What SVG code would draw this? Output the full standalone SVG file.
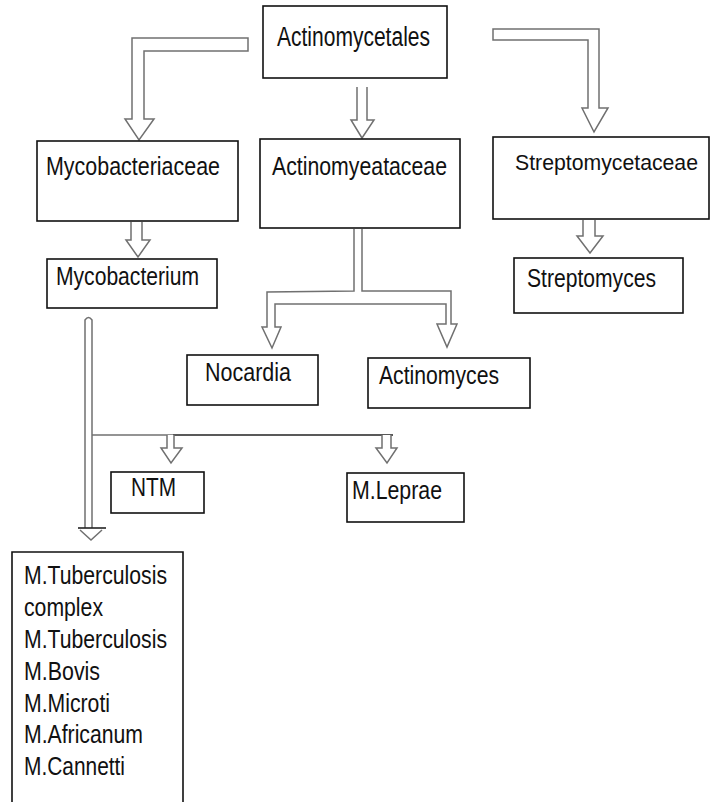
<svg xmlns="http://www.w3.org/2000/svg" width="712" height="802" viewBox="0 0 712 802">
<style>
.box{fill:#fff;stroke:#111;stroke-width:1.6}
.t{font-family:"Liberation Sans",Arial,sans-serif;font-size:26px;fill:#111}
.arr{fill:#fff;stroke:#707070;stroke-width:1.5;stroke-linejoin:miter}
.ln{fill:none;stroke:#707070;stroke-width:1.5}
.dk{fill:none;stroke:#222;stroke-width:1.6}
</style>
<rect width="712" height="802" fill="#fff"/>
<g id="connectors">
  <path class="arr" d="M248,38 L132,38 L132,119 L125,119 L139,140 L154,119 L144,119 L144,51 L248,51 Z"/>
  <path class="arr" d="M357,87 L357,120 L351,120 L362,138 L374,120 L367,120 L367,87"/>
  <path class="arr" d="M493,29 L599,29 L599,108 L608,108 L594,132 L582,108 L588,108 L588,40 L493,40 Z"/>
  <path class="arr" d="M131,222 L131,240 L126,240 L138,257 L150,240 L142,240 L142,222"/>
  <path class="arr" d="M583,220 L583,236 L577,236 L590,253 L603,236 L595,236 L595,220"/>
  <path class="arr" d="M354,229 L354,291 L267,292 L267,327 L262,327 L272,348 L281,327 L275,327 L275,304 L446,304 L446,324 L437,324 L447,347 L457,324 L451,324 L451,291 L362,291 L362,229"/>
  <path class="arr" d="M85,528 L85,320 Q88.5,315 92,320 L92,528"/>
  <path class="dk" d="M78,528 L106,528" stroke-width="2.2"/>
  <path class="ln" d="M80,530 L91,540 L102,530"/>
  <path class="ln" d="M92,435 L173,435"/>
  <path class="dk" d="M173,435 L393,435"/>
  <path class="arr" d="M167,435 L167,448 L161,448 L171,463 L182,448 L174,448 L174,435"/>
  <path class="arr" d="M382,435 L382,448 L376,448 L387,463 L397,448 L391,448 L391,435"/>
</g>
<g id="n-actinomycetales">
  <rect class="box" x="263" y="6" width="184" height="72"/>
  <text class="t" x="277" y="46" style="font-size:27px" textLength="153" lengthAdjust="spacingAndGlyphs">Actinomycetales</text>
</g>
<g id="n-mycobacteriaceae">
  <rect class="box" x="37" y="141" width="201" height="80"/>
  <text class="t" x="46" y="175" textLength="174" lengthAdjust="spacingAndGlyphs">Mycobacteriaceae</text>
</g>
<g id="n-actinomyeataceae">
  <rect class="box" x="260" y="139" width="200" height="89"/>
  <text class="t" x="272" y="175" textLength="175" lengthAdjust="spacingAndGlyphs">Actinomyeataceae</text>
</g>
<g id="n-streptomycetaceae">
  <rect class="box" x="493" y="137" width="216" height="82"/>
  <text class="t" x="515" y="170" style="font-size:22px" textLength="183" lengthAdjust="spacingAndGlyphs">Streptomycetaceae</text>
</g>
<g id="n-mycobacterium">
  <rect class="box" x="47" y="259" width="170" height="49"/>
  <text class="t" x="56" y="285" textLength="143" lengthAdjust="spacingAndGlyphs">Mycobacterium</text>
</g>
<g id="n-streptomyces">
  <rect class="box" x="514" y="258" width="169" height="55"/>
  <text class="t" x="527" y="287" textLength="129" lengthAdjust="spacingAndGlyphs">Streptomyces</text>
</g>
<g id="n-nocardia">
  <rect class="box" x="187" y="355" width="131" height="50"/>
  <text class="t" x="205" y="381" textLength="86" lengthAdjust="spacingAndGlyphs">Nocardia</text>
</g>
<g id="n-actinomyces">
  <rect class="box" x="368" y="358" width="162" height="50"/>
  <text class="t" x="379" y="384" textLength="120" lengthAdjust="spacingAndGlyphs">Actinomyces</text>
</g>
<g id="n-ntm">
  <rect class="box" x="111" y="472" width="93" height="41"/>
  <text class="t" x="131" y="496" textLength="45" lengthAdjust="spacingAndGlyphs">NTM</text>
</g>
<g id="n-mleprae">
  <rect class="box" x="347" y="473" width="117" height="49"/>
  <text class="t" x="352" y="499" textLength="90" lengthAdjust="spacingAndGlyphs">M.Leprae</text>
</g>
<g id="n-mtb-complex">
  <path class="box" d="M12,806 L12,552 L183,552 L183,806"/>
  <text class="t" x="24" y="584" textLength="143" lengthAdjust="spacingAndGlyphs">M.Tuberculosis</text>
  <text class="t" x="24" y="616" textLength="79" lengthAdjust="spacingAndGlyphs">complex</text>
  <text class="t" x="24" y="648" textLength="143" lengthAdjust="spacingAndGlyphs">M.Tuberculosis</text>
  <text class="t" x="24" y="680" textLength="76" lengthAdjust="spacingAndGlyphs">M.Bovis</text>
  <text class="t" x="24" y="712" textLength="86" lengthAdjust="spacingAndGlyphs">M.Microti</text>
  <text class="t" x="24" y="743" textLength="119" lengthAdjust="spacingAndGlyphs">M.Africanum</text>
  <text class="t" x="24" y="775" textLength="101" lengthAdjust="spacingAndGlyphs">M.Cannetti</text>
</g>
</svg>
